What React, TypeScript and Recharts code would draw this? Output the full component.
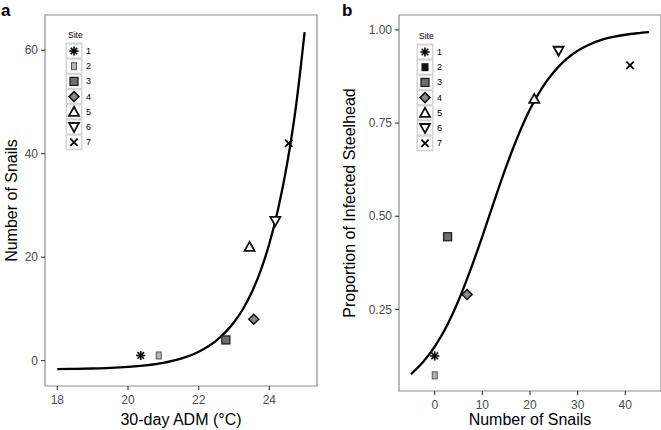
import React from 'react';
import { ComposedChart, Line, Scatter, XAxis, YAxis, ReferenceArea, Legend } from 'recharts';

// ---- data ----
const sites = [1, 2, 3, 4, 5, 6, 7];
const siteLabels = ['1', '2', '3', '4', '5', '6', '7'];

// panel a: 30-day ADM vs number of snails
const admA = [20.36, 20.87, 22.77, 23.56, 23.44, 24.17, 24.55];
const snailsA = [1, 1, 4, 8, 22, 27, 42];
const curveAx = [18, 18.5, 19, 19.5, 20, 20.5, 21, 21.5, 22, 22.5, 23, 23.25, 23.5, 23.75, 24, 24.25, 24.5, 24.75, 25];
const curveAy = [-1.63, -1.59, -1.52, -1.41, -1.22, -0.91, -0.42, 0.39, 1.72, 3.88, 7.41, 9.94, 13.17, 17.3, 22.58, 29.3, 37.9, 48.9, 63.5];
const ticksAx = [18, 20, 22, 24];
const ticksAy = [0, 20, 40, 60];

// panel b: number of snails vs proportion infected
const snailsB = [0, 0, 2.7, 6.8, 20.9, 26.0, 41.0];
const propB = [0.125, 0.073, 0.445, 0.29, 0.815, 0.944, 0.905];
const curveBx = [-5, -2.5, 0, 2.5, 5, 7.5, 10, 12.5, 15, 17.5, 20, 22.5, 25, 27.5, 30, 32.5, 35, 37.5, 40, 42.5, 45];
const curveBy = [0.076, 0.108, 0.15, 0.205, 0.274, 0.356, 0.446, 0.541, 0.633, 0.716, 0.787, 0.844, 0.887, 0.92, 0.944, 0.961, 0.973, 0.981, 0.987, 0.991, 0.994];
const ticksBx = [0, 10, 20, 30, 40];
const ticksBy = [0.25, 0.5, 0.75, 1.0];

const ptsA = sites.map((s, i) => ({ site: s, x: admA[i], y: snailsA[i] }));
const lineA = curveAx.map((x, i) => ({ x, y: curveAy[i] }));
const ptsB = sites.map((s, i) => ({ site: s, x: snailsB[i], y: propB[i] }));
const lineB = curveBx.map((x, i) => ({ x, y: curveBy[i] }));

const domAx: [number, number] = [17.65, 25.35];
const domAy: [number, number] = [-4.9, 66.8];
const domBx: [number, number] = [-7.5, 47.5];
const domBy: [number, number] = [0.031, 1.04];

const FONT = '"Liberation Sans", Arial, Helvetica, sans-serif';
const TICK_FILL = '#4d4d4d';

function SiteMark({ site, cx, cy, solid2 }: { site: number; cx: number; cy: number; solid2?: boolean }) {
  switch (site) {
    case 1:
      return (
        <g stroke="#000" strokeWidth={1.6}>
          <line x1={cx - 4.6} y1={cy} x2={cx + 4.6} y2={cy} />
          <line x1={cx} y1={cy - 4.6} x2={cx} y2={cy + 4.6} />
          <line x1={cx - 3.3} y1={cy - 3.3} x2={cx + 3.3} y2={cy + 3.3} />
          <line x1={cx - 3.3} y1={cy + 3.3} x2={cx + 3.3} y2={cy - 3.3} />
        </g>
      );
    case 2:
      return solid2 ? (
        <rect x={cx - 3.5} y={cy - 4} width={7} height={8} fill="#111" />
      ) : (
        <rect x={cx - 2.5} y={cy - 3.5} width={5} height={7} fill="#b5b5b5" stroke="#555" strokeWidth={1} />
      );
    case 3:
      return <rect x={cx - 4} y={cy - 4} width={8} height={8} fill="#6e6e6e" stroke="#222" strokeWidth={1.3} />;
    case 4:
      return (
        <polygon
          points={`${cx},${cy - 5} ${cx + 5},${cy} ${cx},${cy + 5} ${cx - 5},${cy}`}
          fill="#8a8a8a"
          stroke="#111"
          strokeWidth={1.5}
        />
      );
    case 5:
      return (
        <polygon
          points={`${cx},${cy - 5} ${cx + 5},${cy + 4} ${cx - 5},${cy + 4}`}
          fill="#fff"
          stroke="#111"
          strokeWidth={1.8}
        />
      );
    case 6:
      return (
        <polygon
          points={`${cx},${cy + 5} ${cx + 5},${cy - 4} ${cx - 5},${cy - 4}`}
          fill="#fff"
          stroke="#111"
          strokeWidth={1.8}
        />
      );
    default:
      return (
        <g stroke="#000" strokeWidth={1.8}>
          <line x1={cx - 3.6} y1={cy - 3.6} x2={cx + 3.6} y2={cy + 3.6} />
          <line x1={cx - 3.6} y1={cy + 3.6} x2={cx + 3.6} y2={cy - 3.6} />
        </g>
      );
  }
}

function SiteLegend({ solid2 }: { solid2?: boolean }) {
  const rowH = 15.2;
  return (
    <svg width={40} height={130} style={{ display: 'block', fontFamily: FONT }}>
      <text x={7} y={11} fontSize={8.5} fill="#000">Site</text>
      <rect x={4.5} y={15.5} width={17} height={rowH * 7 + 1.5} fill="#d6d6d6" />
      {sites.map((s, i) => {
        const cy = 24 + rowH * i;
        return (
          <g key={s}>
            <rect x={6} y={cy - 6.4} width={14} height={12.8} fill="#fff" />
            <SiteMark site={s} cx={13} cy={cy} solid2={solid2} />
            <text x={25} y={cy + 3} fontSize={9} fill="#000">{siteLabels[i]}</text>
          </g>
        );
      })}
    </svg>
  );
}

const tickStyle = { fill: TICK_FILL, fontSize: 12 };
const tickLineStyle = { stroke: '#333', strokeWidth: 1.1 };

export default function App() {
  return (
    <div style={{ position: 'absolute', left: 0, top: 0, width: 661, height: 430, background: '#fff', fontFamily: FONT, overflow: 'hidden' }}>
      <div style={{ position: 'absolute', left: 0, top: 0 }}>
        <ComposedChart width={330} height={430} margin={{ top: 15, right: 13, left: 0, bottom: 0 }}>
          <XAxis
            type="number"
            dataKey="x"
            domain={domAx}
            allowDataOverflow
            ticks={ticksAx}
            tick={tickStyle}
            tickLine={tickLineStyle}
            tickSize={4}
            tickMargin={5}
            axisLine={false}
            height={44}
            label={{ value: '30-day ADM (°C)', position: 'insideBottom', offset: 5, style: { fontSize: 16, fill: '#000' } }}
          />
          <YAxis
            type="number"
            dataKey="y"
            domain={domAy}
            allowDataOverflow
            ticks={ticksAy}
            tick={tickStyle}
            tickLine={tickLineStyle}
            tickSize={4}
            tickMargin={3}
            axisLine={false}
            width={45}
            label={{ value: 'Number of Snails', angle: -90, position: 'insideLeft', offset: 11, style: { textAnchor: 'middle', fontSize: 16, fill: '#000' } }}
          />
          <ReferenceArea x1={domAx[0]} x2={domAx[1]} y1={domAy[0]} y2={domAy[1]} fill="none" stroke="#8c8c8c" strokeWidth={1.2} ifOverflow="visible" />
          <Line data={lineA} dataKey="y" type="monotone" stroke="#000" strokeWidth={2.3} dot={false} activeDot={false} isAnimationActive={false} legendType="none" />
          <Scatter
            data={ptsA}
            dataKey="y"
            isAnimationActive={false}
            shape={(p: any) => <SiteMark site={p.payload.site} cx={p.cx} cy={p.cy} />}
          />
          <Legend
            layout="vertical"
            align="center"
            verticalAlign="middle"
            wrapperStyle={{ left: 61, top: 27, width: 40, height: 130 }}
            content={() => <SiteLegend />}
          />
        </ComposedChart>
      </div>
      <div style={{ position: 'absolute', left: 330, top: 0 }}>
        <ComposedChart width={331} height={430} margin={{ top: 15, right: 0, left: 0, bottom: 0 }}>
          <XAxis
            type="number"
            dataKey="x"
            domain={domBx}
            allowDataOverflow
            ticks={ticksBx}
            tick={tickStyle}
            tickLine={tickLineStyle}
            tickSize={4}
            tickMargin={5}
            axisLine={false}
            height={39}
            label={{ value: 'Number of Snails', position: 'insideBottom', offset: 5, style: { fontSize: 16, fill: '#000' } }}
          />
          <YAxis
            type="number"
            dataKey="y"
            domain={domBy}
            allowDataOverflow
            ticks={ticksBy}
            tickFormatter={(v: number) => v.toFixed(2)}
            tick={tickStyle}
            tickLine={tickLineStyle}
            tickSize={4}
            tickMargin={3}
            axisLine={false}
            width={69}
            label={{ value: 'Proportion of Infected Steelhead', angle: -90, position: 'insideLeft', offset: 19, style: { textAnchor: 'middle', fontSize: 16, fill: '#000' } }}
          />
          <ReferenceArea x1={domBx[0]} x2={domBx[1]} y1={domBy[0]} y2={domBy[1]} fill="none" stroke="#8c8c8c" strokeWidth={1.2} ifOverflow="visible" />
          <Line data={lineB} dataKey="y" type="monotone" stroke="#000" strokeWidth={2.3} dot={false} activeDot={false} isAnimationActive={false} legendType="none" />
          <Scatter
            data={ptsB}
            dataKey="y"
            isAnimationActive={false}
            shape={(p: any) => <SiteMark site={p.payload.site} cx={p.cx} cy={p.cy} />}
          />
          <Legend
            layout="vertical"
            align="center"
            verticalAlign="middle"
            wrapperStyle={{ left: 82, top: 28, width: 40, height: 130 }}
            content={() => <SiteLegend solid2 />}
          />
        </ComposedChart>
      </div>
      <svg width={661} height={430} style={{ position: 'absolute', left: 0, top: 0, pointerEvents: 'none' }}>
        <text x={1} y={16} fontSize={17} fontWeight="bold" fill="#000" style={{ fontFamily: FONT }}>a</text>
        <text x={342} y={16} fontSize={17} fontWeight="bold" fill="#000" style={{ fontFamily: FONT }}>b</text>
      </svg>
    </div>
  );
}
